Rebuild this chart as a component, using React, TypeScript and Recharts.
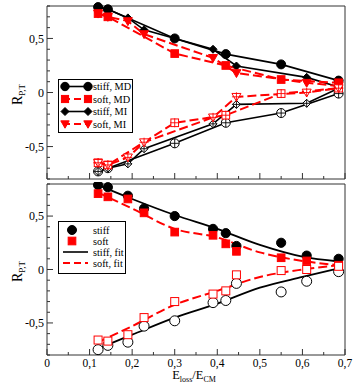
import React from "react";
import { ComposedChart, Line, Scatter, XAxis, YAxis, Legend } from "recharts";

const RED = "#ff0000";
const INK = "#000000";
const FRAME = "#333333";
const FONT = "'Liberation Serif', 'Times New Roman', serif";

// tick positions and which ones carry a label
const xTicks = [0, 0.05, 0.1, 0.15, 0.2, 0.25, 0.3, 0.35, 0.4, 0.45, 0.5, 0.55, 0.6, 0.65, 0.7];
const xLabelled = [0, 0.1, 0.2, 0.3, 0.4, 0.5, 0.6, 0.7];
const yTicks = [-0.8, -0.7, -0.6, -0.5, -0.4, -0.3, -0.2, -0.1, 0, 0.1, 0.2, 0.3, 0.4, 0.5, 0.6, 0.7, 0.8];
const yLabelled = [-0.5, 0, 0.5];

// top panel, MD runs
const xMD = [0.12, 0.143, 0.3, 0.42, 0.55, 0.685];
const stiffMDup = [0.79, 0.77, 0.5, 0.355, 0.26, 0.11];
const stiffMDdown = [-0.73, -0.7, -0.47, -0.28, -0.19, -0.01];
const softMDup = [0.73, 0.7, 0.36, 0.25, 0.12, 0.09];
const softMDdown = [-0.65, -0.67, -0.28, -0.21, -0.01, 0.04];

// top panel, MI runs
const xMI = [0.12, 0.143, 0.19, 0.228, 0.39, 0.445, 0.61, 0.685];
const stiffMIup = [0.79, 0.77, 0.69, 0.58, 0.4, 0.245, 0.14, 0.05];
const stiffMIdown = [-0.73, -0.7, -0.66, -0.52, -0.29, -0.11, -0.1, 0.04];
const softMIup = [0.73, 0.7, 0.66, 0.54, 0.32, 0.18, 0.09, 0.06];
const softMIdown = [-0.65, -0.67, -0.6, -0.46, -0.23, -0.04, 0.0, 0.04];

// bottom panel, all points
const xAll = [0.12, 0.143, 0.19, 0.228, 0.3, 0.39, 0.42, 0.445, 0.55, 0.61, 0.685];
const stiffUp = [0.79, 0.77, 0.69, 0.57, 0.5, 0.38, 0.34, 0.22, 0.25, 0.13, 0.1];
const stiffDown = [-0.75, -0.71, -0.68, -0.53, -0.48, -0.31, -0.29, -0.13, -0.21, -0.11, -0.02];
const softUp = [0.71, 0.68, 0.66, 0.53, 0.35, 0.32, 0.24, 0.17, 0.11, 0.08, 0.04];
const softDown = [-0.66, -0.67, -0.61, -0.45, -0.3, -0.23, -0.2, -0.05, -0.01, 0.0, 0.03];

// bottom panel, fitted curves
const xFit = [0.12, 0.2, 0.3, 0.4, 0.5, 0.6, 0.685];
const stiffFitUp = [0.79, 0.66, 0.51, 0.38, 0.23, 0.12, 0.075];
const stiffFitDown = [-0.74, -0.61, -0.45, -0.32, -0.17, -0.07, 0.01];
const softFitUp = [0.72, 0.57, 0.38, 0.3, 0.16, 0.08, 0.04];
const softFitDown = [-0.68, -0.53, -0.33, -0.2, -0.07, 0.0, 0.04];

const pts = (xs: number[], ys: number[]) => xs.map((x, i) => ({ x, y: ys[i] }));
const has = (list: number[], v: number) => list.some((t) => Math.abs(t - v) < 1e-6);
const fmt = (v: number) => String(Number(v.toFixed(2))).replace(".", ",");

type Kind = "circle" | "square" | "diamond" | "tri";

function Mark({ cx, cy, kind, color, open, plus, s = 4.5 }: any) {
  if (cx == null || cy == null) return <g />;
  const fill = open ? "#fff" : color;
  const common = { fill, stroke: color, strokeWidth: 1 };
  let shape: React.ReactNode = null;
  if (kind === "circle") shape = <circle cx={cx} cy={cy} r={s} {...common} />;
  if (kind === "square") shape = <rect x={cx - s * 0.85} y={cy - s * 0.85} width={s * 1.7} height={s * 1.7} {...common} />;
  if (kind === "diamond")
    shape = <polygon points={`${cx},${cy - s} ${cx + s},${cy} ${cx},${cy + s} ${cx - s},${cy}`} {...common} />;
  if (kind === "tri")
    shape = <polygon points={`${cx - s},${cy - s * 0.75} ${cx + s},${cy - s * 0.75} ${cx},${cy + s}`} {...common} />;
  return (
    <g>
      {shape}
      {plus && (
        <g stroke={color} strokeWidth={0.9}>
          <line x1={cx - s} x2={cx + s} y1={cy} y2={cy} />
          <line x1={cx} x2={cx} y1={cy - s} y2={cy + s} />
        </g>
      )}
    </g>
  );
}

const dotOf = (kind: Kind, color: string, open = false, plus = false, s = 4.5) => (p: any) =>
  <Mark key={`d${p.index}`} cx={p.cx} cy={p.cy} kind={kind} color={color} open={open} plus={plus} s={s} />;

function BottomTick({ x, y, payload, labels }: any) {
  const v = payload.value;
  const major = has(xLabelled, v);
  return (
    <g>
      <line x1={x} x2={x} y1={y} y2={y - (major ? 6 : 3)} stroke={FRAME} />
      {labels && major && (
        <text x={x} y={y + 12} textAnchor="middle" fontSize={11.5} fontFamily={FONT} fill="#000">
          {fmt(v)}
        </text>
      )}
    </g>
  );
}

function TopTick({ x, y, payload }: any) {
  const major = has(xLabelled, payload.value);
  return <line x1={x} x2={x} y1={y} y2={y + (major ? 6 : 3)} stroke={FRAME} />;
}

function LeftTick({ x, y, payload }: any) {
  const v = payload.value;
  const major = has(yLabelled, v);
  return (
    <g>
      <line x1={x} x2={x + (major ? 6 : 3)} y1={y} y2={y} stroke={FRAME} />
      {major && (
        <text x={x - 3} y={y} dy="0.35em" textAnchor="end" fontSize={12} fontFamily={FONT} fill="#000">
          {fmt(v)}
        </text>
      )}
    </g>
  );
}

function RightTick({ x, y, payload }: any) {
  const major = has(yLabelled, payload.value);
  return <line x1={x} x2={x - (major ? 6 : 3)} y1={y} y2={y} stroke={FRAME} />;
}

function YTitle({ viewBox }: any) {
  const cy = viewBox.y + viewBox.height / 2 + 2;
  return (
    <text transform={`translate(22, ${cy}) rotate(-90)`} textAnchor="middle" fontSize={14} fontFamily={FONT} fill="#000">
      R
      <tspan dy={3} fontSize={9}>
        P,T
      </tspan>
    </text>
  );
}

function XTitle({ viewBox }: any) {
  const cx = viewBox.x + viewBox.width / 2 - 2;
  return (
    <text x={cx} y={viewBox.y + 24} textAnchor="middle" fontSize={12.5} fontFamily={FONT} fill="#000">
      E
      <tspan dy={3} fontSize={8}>
        loss
      </tspan>
      <tspan dy={-3}>/E</tspan>
      <tspan dy={3} fontSize={8}>
        CM
      </tspan>
    </text>
  );
}

// axes are 1px thick so that they are drawn; margins make up the rest
const frameAxes = (labels: boolean) => [
  <XAxis
    key="xb"
    dataKey="x"
    type="number"
    domain={[0, 0.7]}
    ticks={xTicks}
    interval={0}
    height={1}
    tickSize={0}
    tickMargin={0}
    tickLine={false}
    axisLine={{ stroke: FRAME }}
    tick={<BottomTick labels={labels} />}
    label={labels ? <XTitle /> : undefined}
  />,
  <XAxis
    key="xt"
    xAxisId="top"
    orientation="top"
    type="number"
    domain={[0, 0.7]}
    ticks={xTicks}
    interval={0}
    height={1}
    tickSize={0}
    tickMargin={0}
    tickLine={false}
    axisLine={{ stroke: FRAME }}
    tick={<TopTick />}
  />,
  <YAxis
    key="yl"
    dataKey="y"
    type="number"
    domain={[-0.8, 0.8]}
    ticks={yTicks}
    interval={0}
    width={1}
    tickSize={0}
    tickMargin={0}
    tickLine={false}
    axisLine={{ stroke: FRAME }}
    tick={<LeftTick />}
    label={<YTitle />}
  />,
  <YAxis
    key="yr"
    yAxisId="right"
    orientation="right"
    type="number"
    domain={[-0.8, 0.8]}
    ticks={yTicks}
    interval={0}
    width={1}
    tickSize={0}
    tickMargin={0}
    tickLine={false}
    axisLine={{ stroke: FRAME }}
    tick={<RightTick />}
  />,
];

type Row = { label: string; sym: (y: number) => React.ReactNode };

function LegendBox({ rows, width, height, rowY }: { rows: Row[]; width: number; height: number; rowY: number[] }) {
  return (
    <svg width={width} height={height} style={{ display: "block" }}>
      <rect x={0.5} y={0.5} width={width - 1} height={height - 1} fill="#fff" stroke="#000" />
      {rows.map((r, i) => (
        <g key={r.label}>
          {r.sym(rowY[i])}
          <text x={35} y={rowY[i]} dy="0.35em" fontSize={10.3} fontFamily={FONT} fill="#000">
            {r.label}
          </text>
        </g>
      ))}
    </svg>
  );
}

const lineSym = (color: string, dashed: boolean, kind?: Kind) => (y: number) =>
  (
    <g>
      <line x1={5} x2={30} y1={y} y2={y} stroke={color} strokeWidth={dashed ? 2 : 1.6} strokeDasharray={dashed ? "7 4" : undefined} />
      {kind && <Mark cx={7} cy={y} kind={kind} color={color} s={kind === "diamond" ? 4 : 4.2} />}
      {kind && <Mark cx={30} cy={y} kind={kind} color={color} s={kind === "diamond" ? 4 : 4.2} />}
    </g>
  );

const pointSym = (color: string, kind: Kind) => (y: number) => <Mark cx={14} cy={y} kind={kind} color={color} s={4.5} />;

const topRows: Row[] = [
  { label: "stiff, MD", sym: lineSym(INK, false, "circle") },
  { label: "soft, MD", sym: lineSym(RED, true, "square") },
  { label: "stiff, MI", sym: lineSym(INK, false, "diamond") },
  { label: "soft, MI", sym: lineSym(RED, true, "tri") },
];

const bottomRows: Row[] = [
  { label: "stiff", sym: pointSym(INK, "circle") },
  { label: "soft", sym: pointSym(RED, "square") },
  { label: "stiff, fit", sym: lineSym(INK, false) },
  { label: "soft, fit", sym: lineSym(RED, true) },
];

const DASH = "9 4";

export default function App() {
  return (
    <div style={{ position: "absolute", left: 0, top: 0, width: 357, height: 385, background: "#fff", fontFamily: FONT }}>
      <div style={{ position: "absolute", left: 0, top: 0 }}>
        <ComposedChart width={357} height={182} margin={{ top: 5, right: 11, bottom: 2, left: 46 }}>
          {frameAxes(false)}
          <Line data={pts(xMD, stiffMDup)} dataKey="y" type="linear" stroke={INK} strokeWidth={1.6} dot={dotOf("circle", INK)} isAnimationActive={false} />
          <Line data={pts(xMD, stiffMDdown)} dataKey="y" type="linear" stroke={INK} strokeWidth={1.6} dot={dotOf("circle", INK, true, true)} isAnimationActive={false} />
          <Line data={pts(xMI, stiffMIup)} dataKey="y" type="linear" stroke={INK} strokeWidth={1.6} dot={dotOf("diamond", INK, false, false, 4)} isAnimationActive={false} />
          <Line data={pts(xMI, stiffMIdown)} dataKey="y" type="linear" stroke={INK} strokeWidth={1.6} dot={dotOf("diamond", INK, true, true, 4)} isAnimationActive={false} />
          <Line data={pts(xMD, softMDup)} dataKey="y" type="linear" stroke={RED} strokeWidth={2} strokeDasharray={DASH} dot={dotOf("square", RED)} isAnimationActive={false} />
          <Line data={pts(xMD, softMDdown)} dataKey="y" type="linear" stroke={RED} strokeWidth={2} strokeDasharray={DASH} dot={dotOf("square", RED, true, true)} isAnimationActive={false} />
          <Line data={pts(xMI, softMIup)} dataKey="y" type="linear" stroke={RED} strokeWidth={2} strokeDasharray={DASH} dot={dotOf("tri", RED)} isAnimationActive={false} />
          <Line data={pts(xMI, softMIdown)} dataKey="y" type="linear" stroke={RED} strokeWidth={2} strokeDasharray={DASH} dot={dotOf("tri", RED, true, true)} isAnimationActive={false} />
          <Legend
            layout="vertical"
            align="center"
            verticalAlign="middle"
            wrapperStyle={{ left: 58, top: 79, width: 75, height: 54 }}
            content={() => <LegendBox rows={topRows} width={75} height={54} rowY={[7.5, 20, 32.5, 45]} />}
          />
        </ComposedChart>
      </div>
      <div style={{ position: "absolute", left: 0, top: 182 }}>
        <ComposedChart width={357} height={203} margin={{ top: 1, right: 11, bottom: 29, left: 46 }}>
          {frameAxes(true)}
          <Line data={pts(xFit, stiffFitUp)} dataKey="y" type="monotone" stroke={INK} strokeWidth={1.8} dot={false} isAnimationActive={false} />
          <Line data={pts(xFit, stiffFitDown)} dataKey="y" type="monotone" stroke={INK} strokeWidth={1.8} dot={false} isAnimationActive={false} />
          <Line data={pts(xFit, softFitUp)} dataKey="y" type="monotone" stroke={RED} strokeWidth={2} strokeDasharray={DASH} dot={false} isAnimationActive={false} />
          <Line data={pts(xFit, softFitDown)} dataKey="y" type="monotone" stroke={RED} strokeWidth={2} strokeDasharray={DASH} dot={false} isAnimationActive={false} />
          <Scatter data={pts(xAll, stiffUp)} shape={(p: any) => <Mark cx={p.cx} cy={p.cy} kind="circle" color={INK} s={4.6} />} isAnimationActive={false} />
          <Scatter data={pts(xAll, softUp)} shape={(p: any) => <Mark cx={p.cx} cy={p.cy} kind="square" color={RED} s={4.5} />} isAnimationActive={false} />
          <Scatter data={pts(xAll, stiffDown)} shape={(p: any) => <Mark cx={p.cx} cy={p.cy} kind="circle" color={INK} open s={5} />} isAnimationActive={false} />
          <Scatter data={pts(xAll, softDown)} shape={(p: any) => <Mark cx={p.cx} cy={p.cy} kind="square" color={RED} open s={4.7} />} isAnimationActive={false} />
          <Legend
            layout="vertical"
            align="center"
            verticalAlign="middle"
            wrapperStyle={{ left: 58, top: 39, width: 68, height: 53 }}
            content={() => <LegendBox rows={bottomRows} width={68} height={53} rowY={[9, 20, 31, 42]} />}
          />
        </ComposedChart>
      </div>
    </div>
  );
}
